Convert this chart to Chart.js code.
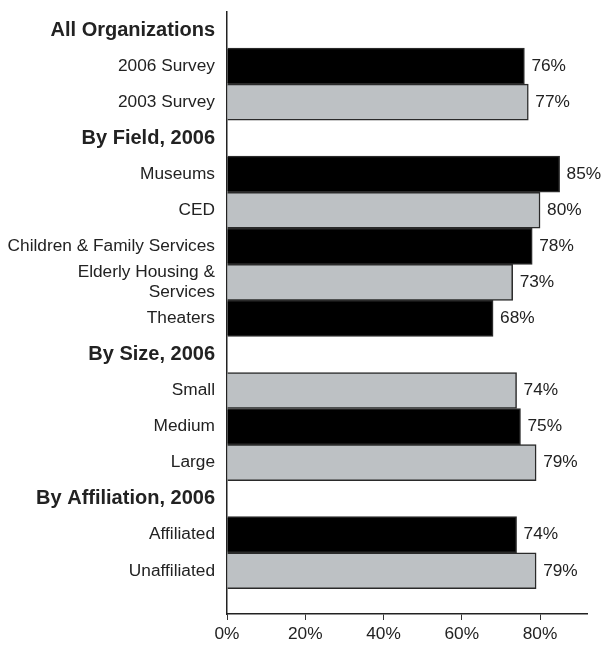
<!DOCTYPE html>
<html>
<head>
<meta charset="utf-8">
<script src="https://cdn.jsdelivr.net/npm/chart.js@4"></script>
<style>
    body { margin: 0; background: #fff; }
    #wrap { width: 608px; height: 648px; }
</style>
</head>
<body>
<div id="wrap"><canvas id="surveyChart"></canvas></div>
<script>
// Row labels, top to bottom (headers have no bar)
const rowLabels = [
    'All Organizations',
    '2006 Survey',
    '2003 Survey',
    'By Field, 2006',
    'Museums',
    'CED',
    'Children & Family Services',
    ['Elderly Housing &', 'Services'],
    'Theaters',
    'By Size, 2006',
    'Small',
    'Medium',
    'Large',
    'By Affiliation, 2006',
    'Affiliated',
    'Unaffiliated'
];
const headerRows = [0, 3, 9, 13];
const barRows = [1, 2, 4, 5, 6, 7, 8, 10, 11, 12, 14, 15];
const barValues = [76, 77, 85, 80, 78, 73, 68, 74, 75, 79, 74, 79];
const xTicks = [0, 20, 40, 60, 80];

const FONT = '"Liberation Sans", Arial, sans-serif';
const TEXT_COLOR = '#222';

// Value labels to the right of each bar
const valueLabels = {
    id: 'valueLabels',
    afterDatasetsDraw(chart) {
        const ctx = chart.ctx;
        const meta = chart.getDatasetMeta(0);
        ctx.save();
        ctx.font = '17.3px ' + FONT;
        ctx.fillStyle = TEXT_COLOR;
        ctx.textAlign = 'left';
        ctx.textBaseline = 'middle';
        meta.data.forEach((bar, i) => {
            ctx.fillText(barValues[i] + '%', bar.x + 7, bar.y);
        });
        ctx.restore();
    }
};

new Chart(document.getElementById('surveyChart'), {
    type: 'bar',
    data: {
        datasets: [{
            data: barRows.map((row, i) => ({ x: barValues[i], y: row })),
            backgroundColor: barRows.map((row, i) => i % 2 === 0 ? '#000000' : '#bdc1c4'),
            borderColor: '#2a2a2a',
            borderWidth: 1.5,
            borderSkipped: 'left',
            categoryPercentage: 1,
            barPercentage: 1
        }]
    },
    options: {
        indexAxis: 'y',
        responsive: true,
        maintainAspectRatio: false,
        animation: false,
        layout: {
            padding: { top: 12, right: 21, bottom: 0, left: 0 }
        },
        plugins: {
            legend: { display: false },
            tooltip: { enabled: false }
        },
        scales: {
            x: {
                type: 'linear',
                min: 0,
                max: 92,
                afterBuildTicks: (scale) => {
                    scale.ticks = xTicks.map(v => ({ value: v }));
                },
                afterFit: (scale) => {
                    scale.height = 34;
                },
                grid: {
                    drawOnChartArea: false,
                    drawTicks: true,
                    tickLength: 6,
                    color: '#333'
                },
                border: { display: true, color: '#222', width: 1.5 },
                ticks: {
                    padding: 4,
                    color: TEXT_COLOR,
                    font: { family: FONT, size: 17.3 },
                    maxRotation: 0,
                    callback: (v) => v + '%'
                }
            },
            y: {
                type: 'linear',
                reverse: true,
                offset: false,
                min: -0.5,
                max: 16.2,
                afterBuildTicks: (scale) => {
                    scale.ticks = rowLabels.map((_, i) => ({ value: i }));
                },
                afterFit: (scale) => {
                    scale.width = 227;
                    scale.paddingTop = 0;
                    scale.paddingBottom = 0;
                },
                grid: { display: false, drawTicks: false, offset: false },
                border: { display: true, color: '#222', width: 1.5 },
                ticks: {
                    autoSkip: false,
                    padding: 12,
                    color: TEXT_COLOR,
                    font: (ctx) => headerRows.includes(ctx.tick && ctx.tick.value)
                        ? { family: FONT, size: 20, weight: 'bold' }
                        : { family: FONT, size: 17.3 },
                    callback: (v) => rowLabels[v]
                }
            }
        }
    },
    plugins: [valueLabels]
});
</script>
</body>
</html>
